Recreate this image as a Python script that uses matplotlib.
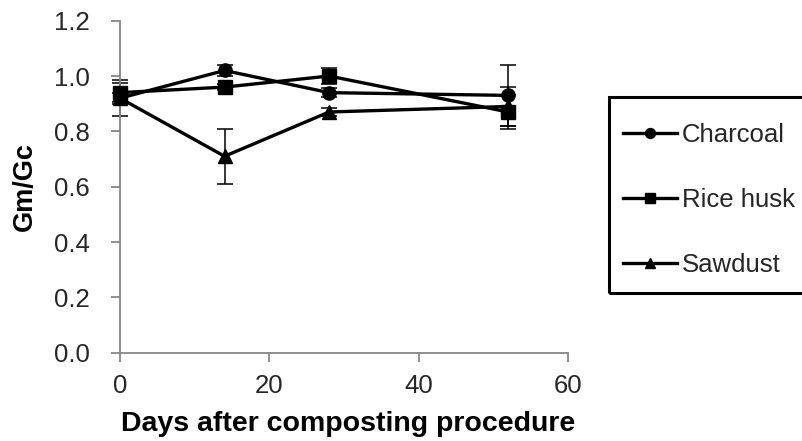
import matplotlib
matplotlib.use('Agg')
import matplotlib.pyplot as plt
from matplotlib.patches import Rectangle

plt.rcParams['font.family'] = ['Liberation Sans', 'DejaVu Sans']

days = [0, 14, 28, 52]

charcoal = [0.92, 1.02, 0.94, 0.93]
charcoal_err = [0.065, 0.02, 0.015, 0.11]

rice_husk = [0.94, 0.96, 1.00, 0.87]
rice_husk_err = [0.035, 0.01, 0.03, 0.06]

sawdust = [0.92, 0.71, 0.87, 0.89]
sawdust_err = [0.02, 0.10, 0.015, 0.07]

series_names = ['Charcoal', 'Rice husk', 'Sawdust']

yticks = [0.0, 0.2, 0.4, 0.6, 0.8, 1.0, 1.2]
xticks = [0, 20, 40, 60]

W, H = 803, 441
fig = plt.figure(figsize=(W / 100, H / 100), dpi=100)
ax = fig.add_axes([120 / W, (H - 352.7) / H, (568 - 120) / W, (352.7 - 20.7) / H])

grey = '#868686'
markers = ['o', 's', '^']
all_y = [charcoal, rice_husk, sawdust]
all_err = [charcoal_err, rice_husk_err, sawdust_err]
handles = []
for name, y, err, m in zip(series_names, all_y, all_err, markers):
    ax.errorbar(days, y, yerr=err, fmt='none', ecolor='black', elinewidth=1.1,
                capsize=5.5, capthick=1.1, zorder=2, clip_on=False)
    h, = ax.plot(days, y, color='black', linewidth=2.4, marker=m, markersize=9.5,
                 markerfacecolor='black', markeredgecolor='black', label=name,
                 zorder=3, clip_on=False)
    handles.append(h)

ax.set_xlim(0, 60)
ax.set_ylim(0, 1.2)
ax.set_xticks(xticks)
ax.set_yticks(yticks)
ax.set_yticklabels([f'{v:.1f}' for v in yticks])

for side in ['top', 'right']:
    ax.spines[side].set_visible(False)
for side in ['left', 'bottom']:
    ax.spines[side].set_color(grey)
    ax.spines[side].set_linewidth(1.3)
ax.tick_params(axis='both', direction='out', length=6.5, width=1.3, color=grey,
               labelsize=18.5, labelcolor='#262626')
ax.tick_params(axis='y', pad=15)
ax.tick_params(axis='x', pad=9)

ax.set_xlabel('Days after composting procedure', fontsize=20.5, fontweight='bold')
ax.xaxis.set_label_coords(0.51, -0.177)
ax.set_ylabel('Gm/Gc', fontsize=19.5, fontweight='bold', labelpad=12)

# legend box, cut off at the right edge like the original
fig.patches.append(Rectangle((609 / W, 1 - 293 / H), 220 / W, (293 - 97) / H,
                             transform=fig.transFigure, fill=False,
                             edgecolor='black', linewidth=2.2, clip_on=False))
leg = fig.legend(handles=handles, loc='upper left', bbox_to_anchor=(623 / W, 1 - 123 / H),
                 fontsize=18.5, frameon=False, handlelength=2.1,
                 handletextpad=0.2, labelspacing=1.6, borderpad=0, markerscale=0.75,
                 borderaxespad=0)
for t in leg.get_texts():
    t.set_color('#262626')

fig.savefig('out.png', dpi=100)
